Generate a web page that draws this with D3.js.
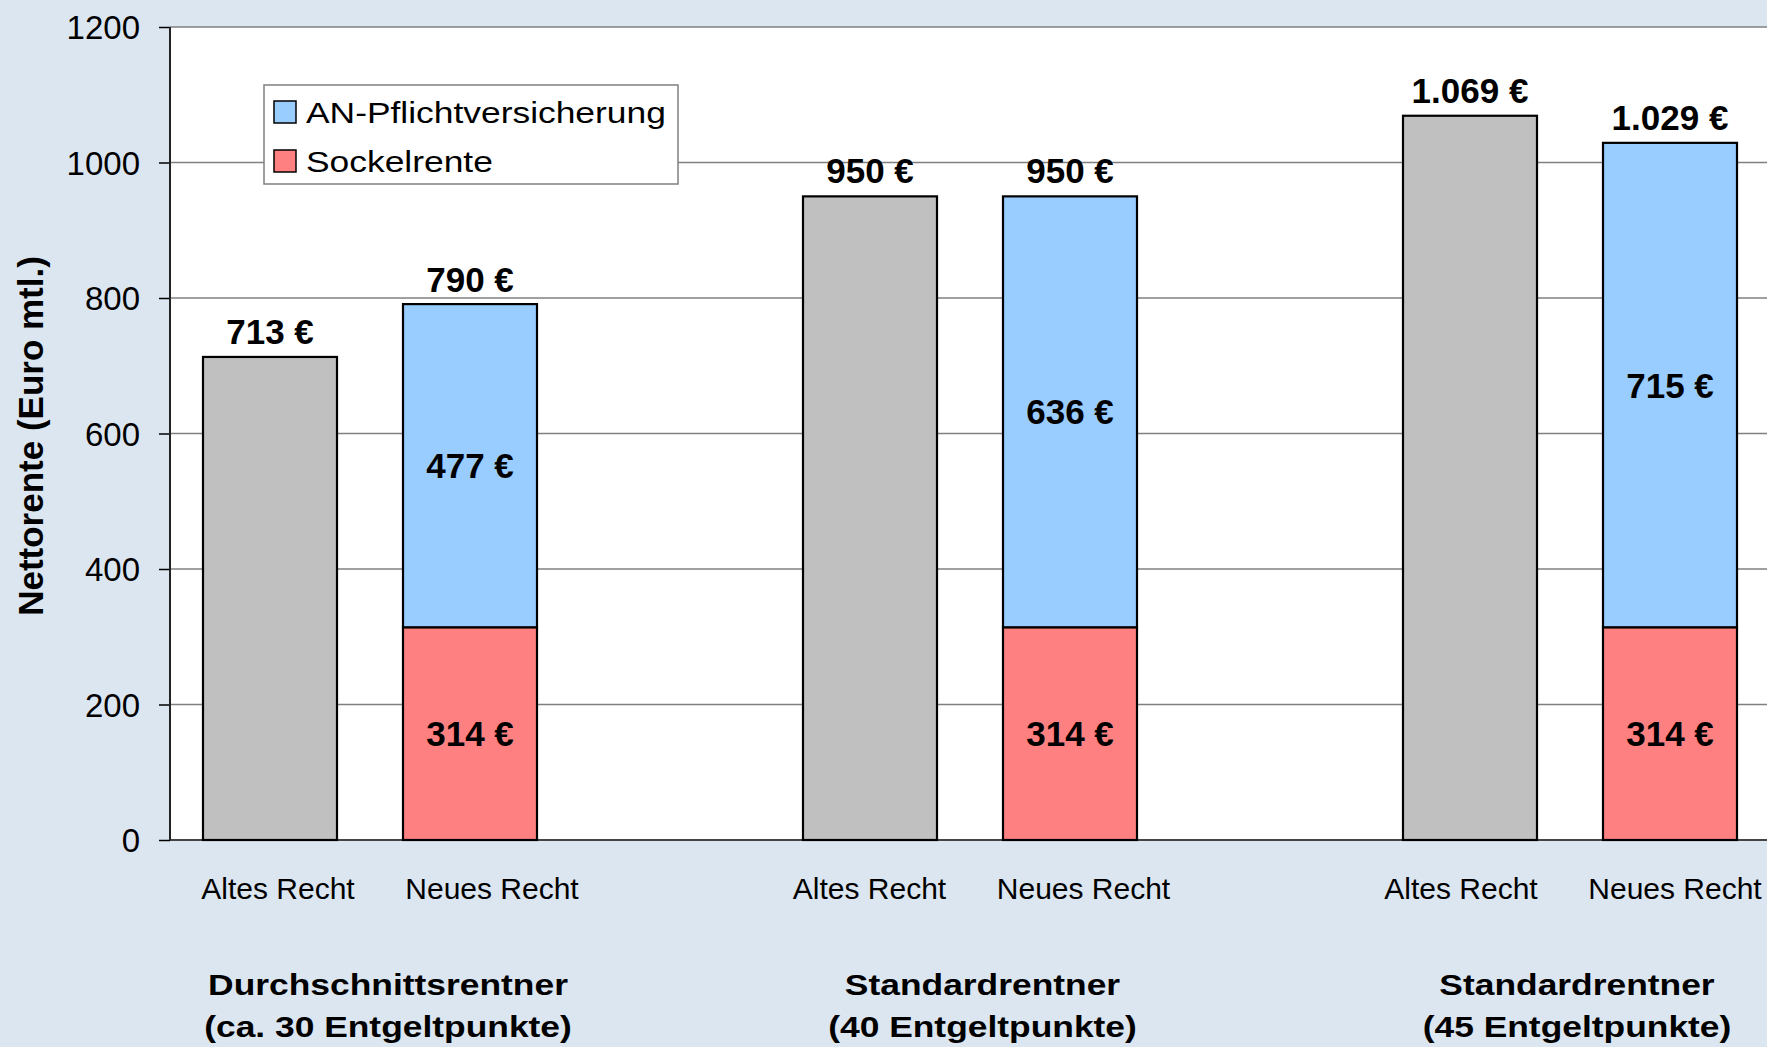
<!DOCTYPE html>
<html>
<head>
<meta charset="utf-8">
<script src="https://cdn.jsdelivr.net/npm/d3@7"></script>
<style>
  html, body { margin: 0; padding: 0; background: #dce6f1; overflow: hidden; }
  svg { display: block; font-family: "Liberation Sans", Arial, sans-serif; }
</style>
</head>
<body>
<svg id="chart" width="1767" height="1047"></svg>
<script>
// data
const groupNames = ["Durchschnittsrentner", "Standardrentner", "Standardrentner"];
const groupNotes = ["(ca. 30 Entgeltpunkte)", "(40 Entgeltpunkte)", "(45 Entgeltpunkte)"];
const regimes = ["Altes Recht", "Neues Recht"];
const altesRecht = [713, 950, 1069];
const sockelrente = [314, 314, 314];
const anPflicht = [477, 636, 715];
const neuesTotal = [790, 950, 1029];
const seriesNames = ["AN-Pflichtversicherung", "Sockelrente"];
const yTicks = [0, 200, 400, 600, 800, 1000, 1200];

const colors = {alt: "#c0c0c0", an: "#99ccff", sockel: "#ff8080"};

const de = d3.formatLocale({decimal: ",", thousands: ".", grouping: [3], currency: ["", " €"]});
const euro = v => de.format(",.0f")(v) + " €";

const W = 1767, H = 1047;
const plot = {left: 170, top: 27, bottom: 840, right: 1970};

const svg = d3.select("#chart");

// one slot per bar, plus an empty slot after each pair (like the excel sheet)
let slots = [];
groupNames.forEach((g, i) => { slots.push(i + "-alt", i + "-neu", i + "-gap"); });

let x = d3.scaleBand()
    .domain(slots)
    .range([plot.left, plot.right])
    .paddingInner(0.33)
    .paddingOuter(0.165);
let y = d3.scaleLinear().domain([0, 1200]).range([plot.bottom, plot.top]);
const bw = x.bandwidth();

// background
svg.append("rect").attr("width", W).attr("height", H).attr("fill", "#dce6f1");
svg.append("rect")
    .attr("x", plot.left).attr("y", plot.top)
    .attr("width", plot.right - plot.left).attr("height", plot.bottom - plot.top)
    .attr("fill", "#ffffff");

// grid + ticks
let yAxis = d3.axisLeft(y).tickValues(yTicks).tickSize(11).tickFormat(d3.format("d"));
let gy = svg.append("g").attr("transform", `translate(${plot.left},0)`).call(yAxis);
gy.select(".domain").remove();
gy.selectAll(".tick line").attr("stroke", "#000").attr("stroke-width", 1.5);
gy.selectAll(".tick text")
    .attr("x", -30).attr("dy", "0.36em")
    .attr("font-size", 33).attr("fill", "#000")
    .attr("font-family", "Liberation Sans, Arial, sans-serif");

svg.append("g").selectAll("line")
    .data(yTicks)
    .join("line")
    .attr("x1", plot.left).attr("x2", plot.right)
    .attr("y1", d => y(d)).attr("y2", d => y(d))
    .attr("stroke", d => d === 0 ? "#444" : "#808080")
    .attr("stroke-width", d => d === 0 ? 2 : 1.5);

// left axis line
svg.append("line")
    .attr("x1", plot.left).attr("x2", plot.left)
    .attr("y1", plot.top).attr("y2", plot.bottom)
    .attr("stroke", "#222").attr("stroke-width", 2);

// bars
let bars = svg.append("g").attr("stroke", "#000").attr("stroke-width", 2.2);
bars.selectAll(".alt")
    .data(altesRecht)
    .join("rect")
    .attr("class", "alt")
    .attr("x", (d, i) => x(i + "-alt"))
    .attr("y", d => y(d))
    .attr("width", bw)
    .attr("height", d => y(0) - y(d))
    .attr("fill", colors.alt);

let stacked = groupNames.map((g, i) => ({i: i, sockel: sockelrente[i], an: anPflicht[i]}));
let stack = d3.stack().keys(["sockel", "an"])(stacked);
bars.selectAll(".layer")
    .data(stack)
    .join("g")
    .attr("class", "layer")
    .attr("fill", s => colors[s.key])
    .selectAll("rect")
    .data(s => s)
    .join("rect")
    .attr("x", d => x(d.data.i + "-neu"))
    .attr("y", d => y(d[1]))
    .attr("width", bw)
    .attr("height", d => y(d[0]) - y(d[1]));

// value labels
const bold = {"font-size": 35, "font-weight": "bold", "text-anchor": "middle", "fill": "#000"};
function styled(sel, st) { Object.keys(st).forEach(k => sel.attr(k, st[k])); return sel; }

let labels = svg.append("g");
styled(labels.selectAll(".top-alt").data(altesRecht).join("text"), bold)
    .attr("x", (d, i) => x(i + "-alt") + bw / 2)
    .attr("y", d => y(d) - 13)
    .text(d => euro(d));
styled(labels.selectAll(".top-neu").data(neuesTotal).join("text"), bold)
    .attr("class", "top-neu")
    .attr("x", (d, i) => x(i + "-neu") + bw / 2)
    .attr("y", d => y(d) - 13)
    .text(d => euro(d));
stack.forEach(layer => {
    styled(labels.append("g").selectAll("text").data(layer).join("text"), bold)
        .attr("x", d => x(d.data.i + "-neu") + bw / 2)
        .attr("y", d => y((d[0] + d[1]) / 2))
        .attr("dy", "0.36em")
        .text(d => euro(d[1] - d[0]));
});

// legend
let legend = svg.append("g");
legend.append("rect")
    .attr("x", 264).attr("y", 85).attr("width", 414).attr("height", 99)
    .attr("fill", "#fff").attr("stroke", "#808080").attr("stroke-width", 1.5);
let li = legend.selectAll(".item")
    .data(seriesNames)
    .join("g")
    .attr("class", "item")
    .attr("transform", (d, i) => `translate(274,${101 + i * 49})`);
li.append("rect")
    .attr("width", 22).attr("height", 22)
    .attr("fill", (d, i) => i === 0 ? colors.an : colors.sockel)
    .attr("stroke", "#000").attr("stroke-width", 1.5);
li.append("text")
    .attr("transform", "translate(32,22) scale(1.18,1)")
    .attr("font-size", 30).attr("fill", "#000")
    .text(d => d);

// category labels under the bars
let shift = d3.scaleLinear().domain([0, 2]).range([8, -9]);
groupNames.forEach((g, i) => {
    regimes.forEach((r, k) => {
        svg.append("text")
            .attr("x", x(i + (k === 0 ? "-alt" : "-neu")) + bw / 2 + shift(i) + k * 14)
            .attr("y", 899)
            .attr("text-anchor", "middle")
            .attr("font-size", 30).attr("fill", "#000")
            .text(r);
    });
});

// group captions
let groupShift = d3.scaleLinear().domain([0, 2]).range([18, 7]);
groupNames.forEach((g, i) => {
    let cx = (x(i + "-alt") + x(i + "-neu") + bw) / 2 + groupShift(i);
    [g, groupNotes[i]].forEach((t, j) => {
        svg.append("text")
            .attr("transform", `translate(${cx},${995 + j * 42}) scale(1.18,1)`)
            .attr("text-anchor", "middle")
            .attr("font-size", 30).attr("font-weight", "bold").attr("fill", "#000")
            .text(t);
    });
});

// y axis title
svg.append("text")
    .attr("transform", "translate(43,436) rotate(-90)")
    .attr("text-anchor", "middle")
    .attr("font-size", 35).attr("font-weight", "bold").attr("fill", "#000")
    .text("Nettorente (Euro mtl.)");
</script>
</body>
</html>
